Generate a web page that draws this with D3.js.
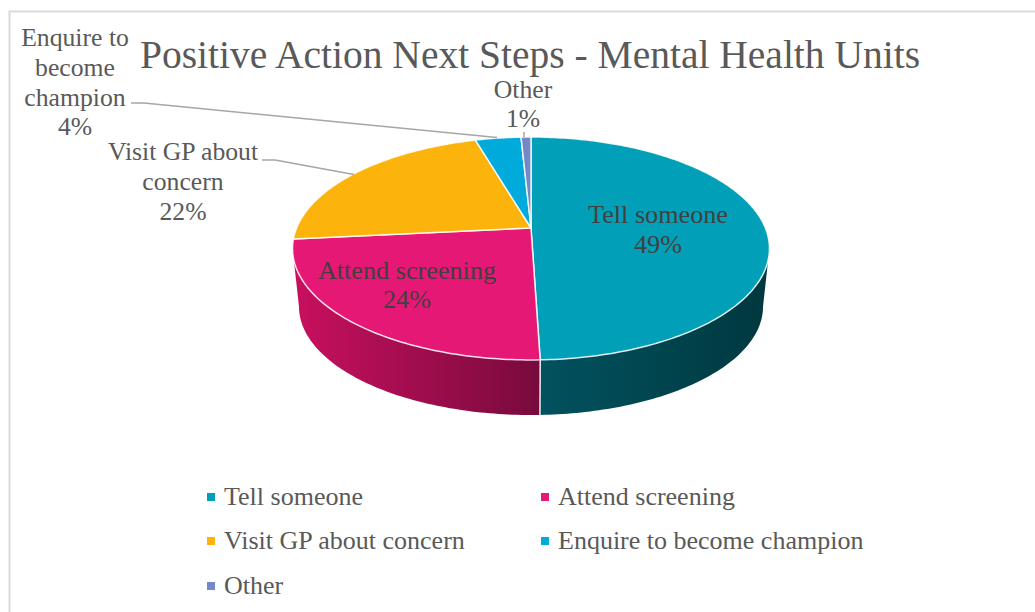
<!DOCTYPE html>
<html lang="en">
<meta charset="utf-8">
<title>Positive Action Next Steps - Mental Health Units</title>
<style>
	html, body { margin: 0; padding: 0; background: #fff; overflow: hidden; }
	text { font-family: "Liberation Serif", serif; }
	.title { fill: #595959; font-size: 39.5px; }
	.label { fill: #595959; font-size: 25.7px; text-anchor: middle; }
	.inside { fill: #404040; font-size: 26.2px; text-anchor: middle; }
	.legend { fill: #595959; font-size: 26px; }
	.leader { fill: none; stroke: #a6a6a6; stroke-width: 1.5; }
</style>
<body>
<script src="https://d3js.org/d3.v7.min.js"></script>
<svg class="chart"></svg>
<script>
	var titleText = "Positive Action Next Steps - Mental Health Units";
	var categories = ["Tell someone", "Attend screening", "Visit GP about concern", "Enquire to become champion", "Other"];
	var values = [49.49, 23.91, 22.1, 3.7, 0.8];
	var colors = ["#02a0b8", "#e61875", "#fcb30b", "#00aada", "#7388c8"];
	// wall gradients, [left colour, right colour]
	var wallColors = [["#01525f", "#00383f"], ["#c8105f", "#780a3c"]];

	var width = 1035, height = 612;
	var svg = d3.select(".chart").attr("width", width).attr("height", height).style("display", "block");

	svg.append("path")
		.attr("d", "M1035,11.5H9.5V612")
		.attr("fill", "none").attr("stroke", "#d9d9d9").attr("stroke-width", 2);

	// perspective of the tilted disc
	var tilt = 0.1838;
	var x = d3.scaleLinear().domain([-1, 1]).range([531 - 234.4, 531 + 234.4]);
	var y = d3.scaleLinear().domain([-1, 1]).range([228 - 107.7, 228 + 107.7]);
	var bottomScale = 0.973, bottomDrop = 58.6;

	function project(angle, r, low) {
		var u = Math.sin(angle) * r, v = -Math.cos(angle) * r, w = 1 - tilt * v;
		var px = x(u / w), py = y(v / w);
		if (low) {
			px = 531 + (px - 531) * bottomScale;
			py = 228 + (py - 228) * bottomScale + bottomDrop;
		}
		return [px, py];
	}
	function sweep(a0, a1) {
		var n = Math.max(2, Math.ceil((a1 - a0) * 60));
		return d3.range(n + 1).map(function(i) { return a0 + (a1 - a0) * i / n; });
	}

	var pie = d3.pie().sort(null).value(function(d) { return d; });
	var arcs = pie(values);
	var line = d3.line();
	var color = d3.scaleOrdinal().domain(categories).range(colors);

	// side walls run between the two widest points of the disc
	var tangent = Math.acos(-tilt);
	var defs = svg.append("defs");
	var walls = [
		{ a0: tangent, a1: arcs[0].endAngle, x0: 540, x1: 770 },
		{ a0: arcs[1].startAngle, a1: Math.PI * 2 - tangent, x0: 293, x1: 540 }
	];
	walls.forEach(function(d, i) {
		var g = defs.append("linearGradient").attr("id", "wall" + i)
			.attr("gradientUnits", "userSpaceOnUse")
			.attr("x1", d.x0).attr("x2", d.x1).attr("y1", 0).attr("y2", 0);
		g.append("stop").attr("offset", 0).attr("stop-color", wallColors[i][0]);
		g.append("stop").attr("offset", 1).attr("stop-color", wallColors[i][1]);
		var angles = sweep(d.a0, d.a1);
		var pts = angles.map(function(a) { return project(a, 1, false); })
			.concat(angles.slice().reverse().map(function(a) { return project(a, 1, true); }));
		svg.append("path")
			.attr("d", line(pts) + "Z")
			.attr("fill", "url(#wall" + i + ")");
	});
	// seam between the two walls
	svg.append("path")
		.attr("d", line([project(arcs[0].endAngle, 1, false), project(arcs[0].endAngle, 1, true)]))
		.attr("stroke", "#fff").attr("stroke-width", 1.5).attr("opacity", 0.9);

	// top face
	svg.selectAll(".slice")
		.data(arcs)
		.enter().append("path")
		.attr("class", "slice")
		.attr("d", function(d) {
			var pts = [project(0, 0, false)].concat(sweep(d.startAngle, d.endAngle).map(function(a) { return project(a, 1, false); }));
			return line(pts) + "Z";
		})
		.attr("fill", function(d, i) { return color(categories[i]); })
		.attr("stroke", "#fff").attr("stroke-opacity", 0.85).attr("stroke-width", 1.5).attr("stroke-linejoin", "round");

	// leaders
	svg.append("path").attr("class", "leader").attr("d", "M131,103H144L497,137.5");
	svg.append("path").attr("class", "leader").attr("d", "M262,160H275L354,174.5");
	svg.append("path").attr("class", "leader").attr("d", "M524,132V137");

	svg.append("text").attr("class", "title").attr("x", 140).attr("y", 68).text(titleText);

	function pct(i) { return Math.round(values[i]) + "%"; }

	function addLabel(cx, ys, lines, cls) {
		lines.forEach(function(t, i) {
			svg.append("text").attr("class", cls).attr("x", cx).attr("y", ys[i]).text(t);
		});
	}
	addLabel(658, [223, 253], [categories[0], pct(0)], "inside");
	addLabel(407, [279, 308], [categories[1], pct(1)], "inside");
	addLabel(183, [160, 190, 220], ["Visit GP about", "concern", pct(2)], "label");
	addLabel(75, [46, 76, 106, 135], ["Enquire to", "become", "champion", pct(3)], "label");
	addLabel(523, [98, 127], [categories[4], pct(4)], "label");

	// legend
	var legendX = [207, 541], legendY = [497, 541, 586];
	var legend = svg.selectAll(".key")
		.data(categories)
		.enter().append("g")
		.attr("class", "key")
		.attr("transform", function(d, i) {
			return "translate(" + legendX[i % 2] + "," + legendY[Math.floor(i / 2)] + ")";
		});
	legend.append("rect")
		.attr("x", 0).attr("y", -4).attr("width", 8).attr("height", 8)
		.attr("fill", function(d) { return color(d); });
	legend.append("text")
		.attr("class", "legend")
		.attr("x", 17).attr("y", 8)
		.text(function(d) { return d; });
</script>
</body>
</html>
